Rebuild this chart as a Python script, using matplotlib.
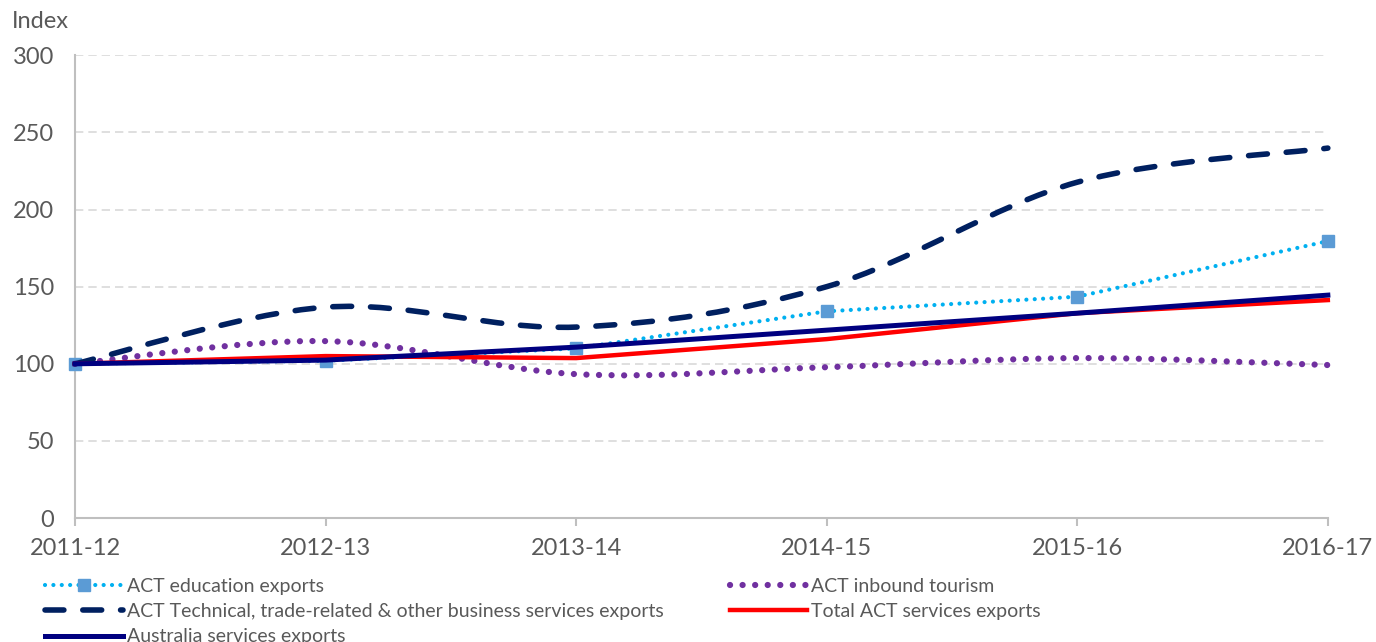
import matplotlib.pyplot as plt
from matplotlib.path import Path
from matplotlib.patches import PathPatch
from matplotlib.lines import Line2D

years = ['2011-12', '2012-13', '2013-14', '2014-15', '2015-16', '2016-17']
education = [100, 102, 110, 134, 143.5, 179.5]
technical = [100, 136.7, 123.8, 150, 217.7, 239.8]
tourism = [100, 114.7, 93.3, 97.8, 103.7, 99.2]
total_act = [100, 105, 103.7, 116, 132.8, 141.3]
australia = [100, 102.4, 110.8, 121.8, 132.8, 144.5]

grey = '#595959'
plt.rcParams['font.family'] = ['Lato', 'DejaVu Sans']


def smooth_path(xs, ys):
    # Excel-style smoothed line: cubic Bezier with Catmull-Rom control points
    verts = [(xs[0], ys[0])]
    codes = [Path.MOVETO]
    n = len(xs)
    for i in range(n - 1):
        p0 = (xs[max(i - 1, 0)], ys[max(i - 1, 0)])
        p1 = (xs[i], ys[i])
        p2 = (xs[i + 1], ys[i + 1])
        p3 = (xs[min(i + 2, n - 1)], ys[min(i + 2, n - 1)])
        c1 = (p1[0] + (p2[0] - p0[0]) / 6, p1[1] + (p2[1] - p0[1]) / 6)
        c2 = (p2[0] - (p3[0] - p1[0]) / 6, p2[1] - (p3[1] - p1[1]) / 6)
        verts += [c1, c2, p2]
        codes += [Path.CURVE4] * 3
    return Path(verts, codes)


fig = plt.figure(figsize=(13.76, 6.42), dpi=100)
ax = fig.add_axes([0.0545, 0.193, 0.9105, 0.721])
x = list(range(len(years)))

edu_style = dict(color='#00B0F0', lw=3, linestyle=(0, (0.01, 2.0)), dash_capstyle='round',
                 marker='s', markersize=9, markerfacecolor='#5B9BD5',
                 markeredgecolor='#5B9BD5')
ax.plot(x, education, zorder=3, clip_on=False, **edu_style)

tour_patch = PathPatch(smooth_path(x, tourism), fill=False, edgecolor='#7030A0',
                       lw=4.5, linestyle=(0, (0.01, 2.0)), capstyle='round', zorder=4,
                       clip_on=False)
ax.add_patch(tour_patch)

tech_patch = PathPatch(smooth_path(x, technical), fill=False, edgecolor='#002060',
                       lw=4, linestyle=(0, (3.4, 3.4)), capstyle='round', zorder=5,
                       clip_on=False)
ax.add_patch(tech_patch)

ax.plot(x, total_act, color='#FF0000', lw=3.2, zorder=6, clip_on=False)
ax.plot(x, australia, color='#000080', lw=3.6, zorder=7, clip_on=False)

ax.set_xlim(0, 5)
ax.set_ylim(0, 300)
ax.set_yticks(range(0, 301, 50))
ax.set_xticks(x)
ax.set_xticklabels(years)
ax.grid(axis='y', color='#D9D9D9', linestyle=(0, (5, 3)), lw=1.2)
ax.set_axisbelow(True)
for s in ['top', 'right']:
    ax.spines[s].set_visible(False)
for s in ['left', 'bottom']:
    ax.spines[s].set_color('#BFBFBF')
    ax.spines[s].set_linewidth(1.5)
ax.tick_params(axis='y', length=0, pad=15, labelsize=17, labelcolor=grey)
ax.tick_params(axis='x', length=6, width=1.5, color='#BFBFBF', direction='out',
               pad=8, labelsize=17, labelcolor=grey)

fig.text(12 / 1376, 1 - 22 / 642, 'Index', fontsize=17, color=grey, va='center', ha='left')

handles = [
    Line2D([], [], **edu_style),
    Line2D([], [], color='#002060', lw=4, linestyle=(0, (3.4, 3.4)), dash_capstyle='round'),
    Line2D([], [], color='#000080', lw=3.6),
    Line2D([], [], color='#7030A0', lw=4.5, linestyle=(0, (0.01, 2.0)), dash_capstyle='round'),
    Line2D([], [], color='#FF0000', lw=3.2),
]
labels = ['ACT education exports',
          'ACT Technical, trade-related & other business services exports',
          'Australia services exports',
          'ACT inbound tourism',
          'Total ACT services exports']
leg = fig.legend(handles, labels, ncol=2, loc='upper left',
                 bbox_to_anchor=(45 / 1376, 1 - 578 / 642), frameon=False,
                 fontsize=14, handlelength=4.0, handletextpad=0.2,
                 columnspacing=3.4, labelspacing=0.42, borderaxespad=0, borderpad=0)
for t in leg.get_texts():
    t.set_color(grey)

fig.savefig('out.png', dpi=100)
